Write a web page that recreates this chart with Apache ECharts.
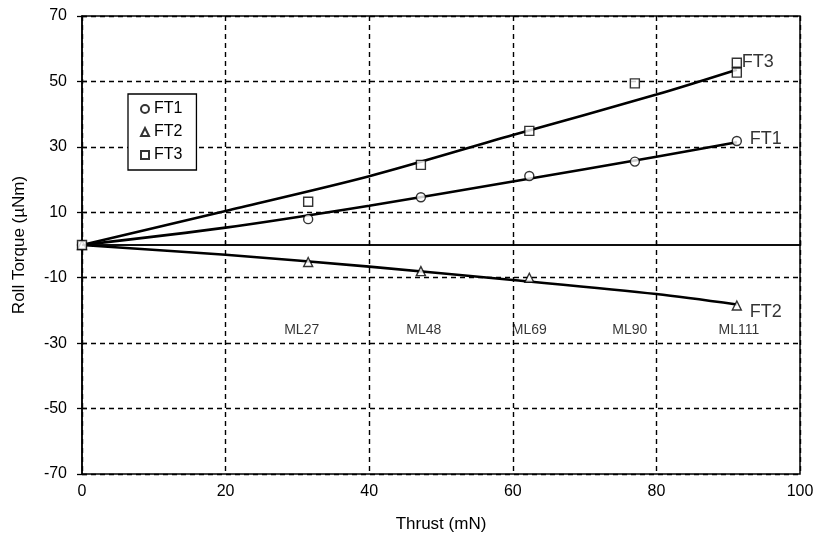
<!DOCTYPE html>
<html>
<head>
<meta charset="utf-8">
<script src="https://cdn.jsdelivr.net/npm/echarts@6/dist/echarts.min.js"></script>
<style>
html,body{margin:0;padding:0;background:#fff;}
#main{width:823px;height:551px;}
</style>
</head>
<body>
<div id="main"></div>
<script>
// ---- data ----
var ft1Points = [[0,0],[31.5,7.9],[47.2,14.6],[62.3,21.1],[77,25.5],[91.2,31.8]];
var ft2Points = [[0,0],[31.5,-5.2],[47.2,-8],[62.3,-10],[91.2,-18.5]];
var ft3Points = [[0,0],[31.5,13.2],[47.2,24.5],[62.3,34.9],[77,49.4],[91.2,55.7],[91.2,52.7]];

var trendX   = [0, 20, 40, 60, 80, 91.2];
var ft1Trend = [0, 5.3, 12.0, 19.4, 27.0, 31.4];
var ft2Trend = [0, -3.0, -6.6, -10.7, -15.0, -18.2];
var ft3Trend = [0, 10.4, 21.0, 33.6, 46.0, 53.6];

var mlNames = ['ML27','ML48','ML69','ML90','ML111'];
var mlX     = [30.6, 47.6, 62.3, 76.3, 91.5];
var mlY     = -26;

var endNames  = ['FT3','FT1','FT2'];
var endPoints = [[91.2,55.7],[91.2,31.8],[91.2,-18.5]];

var xTicks = [0,20,40,60,80,100];
var yTicks = [-70,-50,-30,-10,10,30,50,70];

// ---- chart ----
var FONT = 'Liberation Sans, Arial, sans-serif';
function pairs(xs, ys){ return xs.map(function(x,i){ return [x, ys[i]]; }); }

var markerStyle = {color:'#fff', borderColor:'#000', borderWidth:1.4};
var trendStyle = {color:'#000', width:2.6};

var chart = echarts.init(document.getElementById('main'), null, {renderer:'canvas'});
chart.setOption({
  backgroundColor:'#fff',
  animation:false,
  textStyle:{fontFamily:FONT, color:'#000'},
  grid:{left:82, right:23, top:16, bottom:77, show:true, borderColor:'#000', borderWidth:1.5, backgroundColor:'transparent'},
  legend:{
    data:['FT1','FT2','FT3'],
    orient:'vertical', left:128, top:94,
    padding:[7,14,7,12],
    itemWidth:8, itemHeight:8, itemGap:7,
    borderColor:'#000', borderWidth:1.3, backgroundColor:'#fff',
    textStyle:{fontSize:16, color:'#000', fontFamily:FONT, lineHeight:16},
    selectedMode:false
  },
  xAxis:{
    type:'value', min:xTicks[0], max:xTicks[xTicks.length-1], interval:20,
    name:'Thrust (mN)', nameLocation:'middle', nameGap:42,
    nameTextStyle:{fontSize:17, color:'#000', fontFamily:FONT},
    axisLine:{show:true, lineStyle:{color:'#000', width:1.5}},
    axisTick:{show:true, inside:true, length:5, lineStyle:{color:'#000', width:1.3}},
    axisLabel:{fontSize:16, color:'#000', margin:10, fontFamily:FONT},
    splitLine:{show:true, lineStyle:{color:'#000', width:1.4, type:[5,4]}}
  },
  yAxis:[{
    type:'value', min:yTicks[0], max:yTicks[yTicks.length-1], interval:20,
    name:'Roll Torque (\u00b5Nm)', nameLocation:'middle', nameGap:54,
    nameTextStyle:{fontSize:17, color:'#000', fontFamily:FONT},
    axisLine:{show:true, lineStyle:{color:'#000', width:1.5}},
    axisTick:{show:true, inside:false, length:5, lineStyle:{color:'#000', width:1.3}},
    axisLabel:{fontSize:16, color:'#000', margin:15, fontFamily:FONT},
    splitLine:{show:true, lineStyle:{color:'#000', width:1.4, type:[5,4]}}
  },{
    type:'value', min:yTicks[0], max:yTicks[yTicks.length-1], interval:20,
    position:'left', offset:0,
    axisLine:{show:false},
    axisTick:{show:true, inside:true, length:5, lineStyle:{color:'#000', width:1.3}},
    axisLabel:{show:false},
    splitLine:{show:false}
  }],
  series:[
    {name:'FT1 trend', type:'line', data:pairs(trendX, ft1Trend), smooth:0.3, symbol:'none', lineStyle:trendStyle, silent:true, z:3,
     markLine:{silent:true, symbol:['none','none'], label:{show:false}, lineStyle:{color:'#000', width:1.5, type:'solid'}, data:[{yAxis:0}]}},
    {name:'FT2 trend', type:'line', data:pairs(trendX, ft2Trend), smooth:0.3, symbol:'none', lineStyle:trendStyle, silent:true, z:3},
    {name:'FT3 trend', type:'line', data:pairs(trendX, ft3Trend), smooth:0.3, symbol:'none', lineStyle:trendStyle, silent:true, z:3},
    {name:'FT1', type:'scatter', data:ft1Points, symbol:'circle', symbolSize:9, itemStyle:markerStyle, z:4},
    {name:'FT2', type:'scatter', data:ft2Points, symbol:'triangle', symbolSize:9, itemStyle:markerStyle, z:4},
    {name:'FT3', type:'scatter', data:ft3Points, symbol:'rect', symbolSize:9, itemStyle:markerStyle, z:5},
    {name:'ML labels', type:'scatter', symbolSize:0, silent:true, z:6,
     data:mlX.map(function(x,i){ return {value:[x, mlY], name:mlNames[i]}; }),
     label:{show:true, position:'inside', formatter:'{b}', fontSize:14, color:'#000', fontFamily:FONT}},
    {name:'End labels', type:'scatter', symbolSize:0, silent:true, z:6,
     data:endPoints.map(function(p,i){
       var offs = [[0,-1],[8,-2],[8,7]];
       return {value:p, name:endNames[i], label:{offset:offs[i]}};
     }),
     label:{show:true, position:'right', distance:5, formatter:'{b}', fontSize:18, color:'#000', fontFamily:FONT}}
  ]
});
</script>
</body>
</html>
